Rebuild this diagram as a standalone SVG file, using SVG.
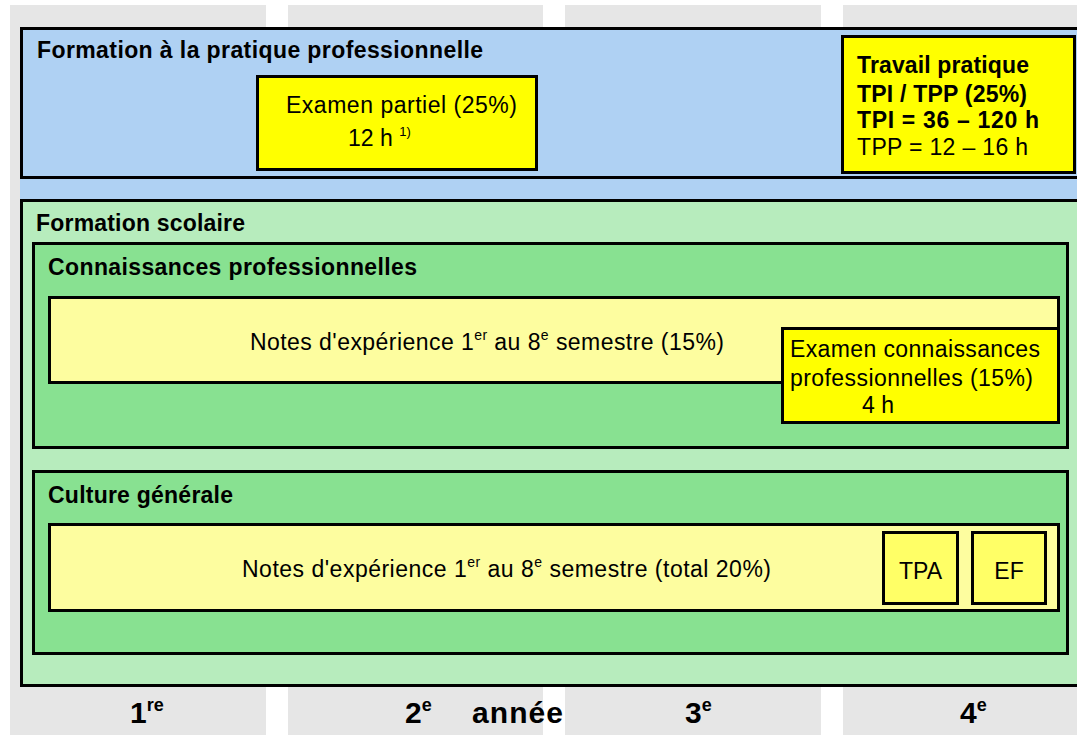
<svg xmlns="http://www.w3.org/2000/svg" width="1077" height="735" viewBox="0 0 1077 735">
<style>
.col{fill:#e6e6e6}
.box{stroke:#000;stroke-width:3}
.t{font-family:"Liberation Sans",Arial,sans-serif;font-size:23px;fill:#000}
.b{font-weight:bold}
.y{font-family:"Liberation Sans",Arial,sans-serif;font-size:30px;font-weight:bold;fill:#000}
</style>
<rect width="1077" height="735" fill="#fff"/>
<g id="columns">
<rect class="col" x="10" y="5" width="256" height="730"/>
<rect class="col" x="288" y="5" width="255" height="730"/>
<rect class="col" x="565" y="5" width="256" height="730"/>
<rect class="col" x="843" y="5" width="240" height="730"/>
</g>
<g id="pratique">
<rect x="20" y="27" width="1070" height="173" fill="#afd1f3"/>
<rect class="box" x="21.5" y="28.5" width="1070" height="149" fill="#afd1f3"/>
<text class="t b" x="37" y="58" font-size="22" textLength="446" lengthAdjust="spacing">Formation à la pratique professionnelle</text>
</g>
<g id="examen-partiel">
<rect class="box" x="257.5" y="76.5" width="279" height="93" fill="#ffff00"/>
<text class="t" x="286" y="113" textLength="231" lengthAdjust="spacing">Examen partiel (25%)</text>
<text class="t" x="348" y="146">12 h <tspan font-size="13" dy="-10">1)</tspan></text>
</g>
<g id="travail-pratique">
<rect class="box" x="842.5" y="36.5" width="232" height="136" fill="#ffff00"/>
<text class="t b" x="857" y="73" font-size="22" textLength="172" lengthAdjust="spacing">Travail pratique</text>
<text class="t b" x="857" y="102" font-size="22" textLength="170" lengthAdjust="spacing">TPI / TPP (25%)</text>
<text class="t b" x="857" y="128" font-size="22" textLength="182" lengthAdjust="spacing">TPI  = 36 – 120 h</text>
<text class="t" x="857" y="155" font-size="22" textLength="171" lengthAdjust="spacing">TPP = 12 – 16 h</text>
</g>
<g id="scolaire">
<rect class="box" x="21.5" y="200.5" width="1070" height="485" fill="#b7ecbd"/>
<text class="t b" x="36" y="231" font-size="22" textLength="209" lengthAdjust="spacing">Formation scolaire</text>
</g>
<g id="connaissances">
<rect class="box" x="33.5" y="243.5" width="1034" height="204" fill="#88e191"/>
<text class="t b" x="48" y="275" font-size="22" textLength="369" lengthAdjust="spacing">Connaissances professionnelles</text>
<rect class="box" x="49.5" y="297.5" width="1009" height="85" fill="#fdfd9f"/>
<text class="t" x="250" y="350" textLength="474" lengthAdjust="spacing">Notes d'expérience 1<tspan font-size="14" dy="-10">er</tspan><tspan dy="10"> au 8</tspan><tspan font-size="14" dy="-10">e</tspan><tspan dy="10"> semestre (15%)</tspan></text>
</g>
<g id="examen-connaissances">
<rect class="box" x="782.5" y="328.5" width="276" height="94" fill="#ffff00"/>
<text class="t" x="790" y="357" textLength="250" lengthAdjust="spacing">Examen connaissances</text>
<text class="t" x="790" y="386" textLength="243" lengthAdjust="spacing">professionnelles (15%)</text>
<text class="t" x="862" y="413">4 h</text>
</g>
<g id="culture">
<rect class="box" x="33.5" y="471.5" width="1034" height="182" fill="#88e191"/>
<text class="t b" x="48" y="503" font-size="22" textLength="185" lengthAdjust="spacing">Culture générale</text>
<rect class="box" x="49.5" y="524.5" width="1009" height="86" fill="#fdfd9f"/>
<text class="t" x="242" y="577" textLength="529" lengthAdjust="spacing">Notes d'expérience 1<tspan font-size="14" dy="-10">er</tspan><tspan dy="10"> au 8</tspan><tspan font-size="14" dy="-10">e</tspan><tspan dy="10"> semestre (total 20%)</tspan></text>
</g>
<g id="tpa">
<rect class="box" x="883.5" y="532.5" width="74" height="71" fill="#ffff66"/>
<text class="t" x="920.5" y="579" text-anchor="middle" font-size="22">TPA</text>
</g>
<g id="ef">
<rect class="box" x="972.5" y="532.5" width="73" height="71" fill="#ffff66"/>
<text class="t" x="1009" y="579" text-anchor="middle" font-size="22">EF</text>
</g>
<g id="annees">
<text class="y" x="130" y="723">1<tspan font-size="18" dy="-12">re</tspan></text>
<text class="y" x="405" y="723">2<tspan font-size="18" dy="-12">e</tspan></text>
<text class="y" x="472" y="723" textLength="91" lengthAdjust="spacing">année</text>
<text class="y" x="685" y="723">3<tspan font-size="18" dy="-12">e</tspan></text>
<text class="y" x="960" y="723">4<tspan font-size="18" dy="-12">e</tspan></text>
</g>
<g id="connectors"></g>
</svg>
